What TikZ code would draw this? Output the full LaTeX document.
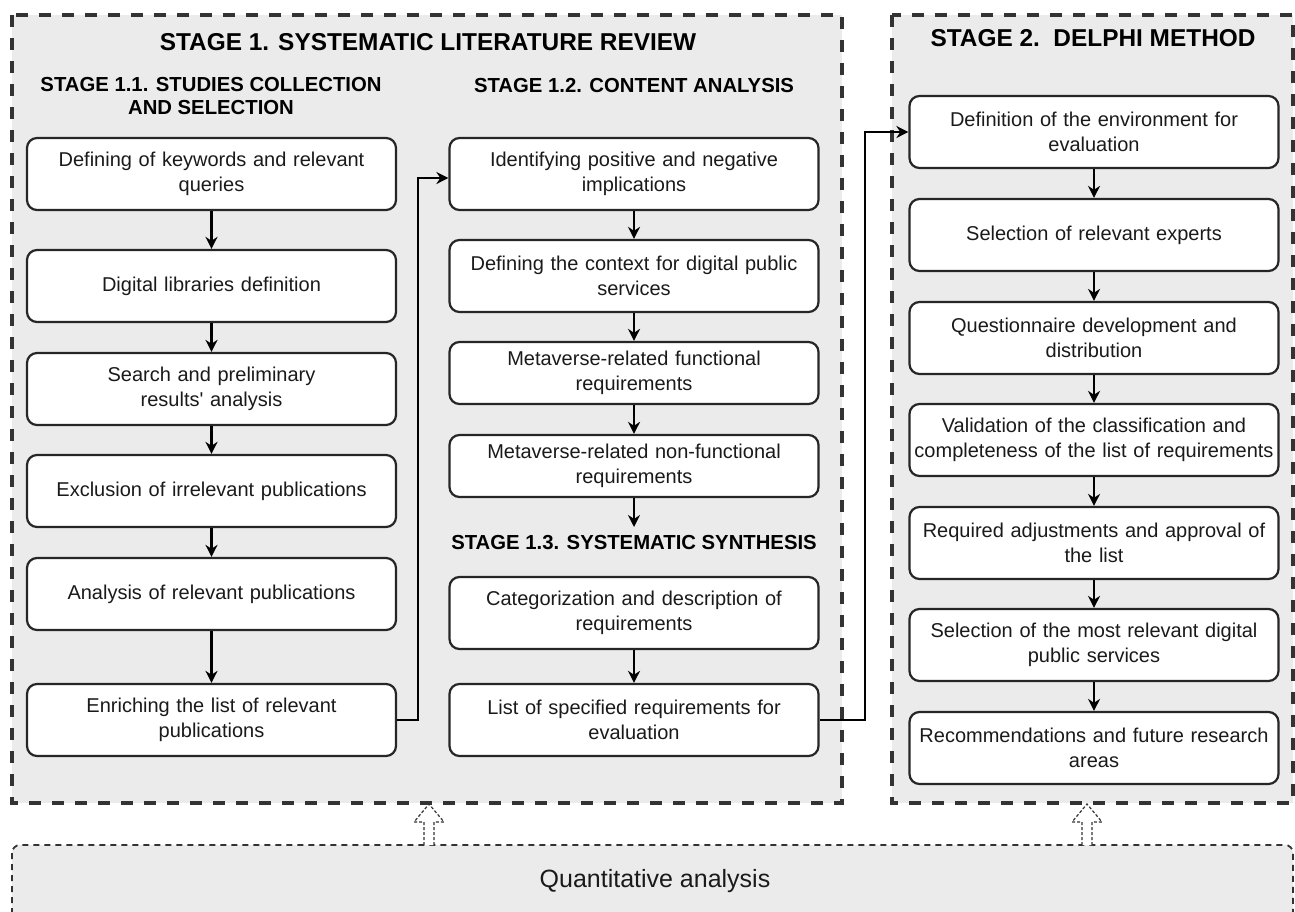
\documentclass[tikz,border=0pt]{standalone}
\usepackage{fontspec}
\setmainfont{Liberation Sans}
\usetikzlibrary{arrows.meta}
\definecolor{bggray}{HTML}{EBEBEB}
\definecolor{dashgray}{HTML}{333333}
\definecolor{txt}{HTML}{1A1A1A}
\tikzset{
  stepbox/.style={draw=black!85, line width=2.2pt, rounded corners=10pt, fill=white,
    minimum width=369pt, minimum height=72pt, align=center, text width=366pt,
    inner sep=0pt, text=txt, font=\fontsize{20}{24.5}\selectfont},
  shortbox/.style={stepbox, minimum height=62pt},
  flow/.style={line width=2.4pt, -{Stealth[length=12pt,width=12pt]}},
  stagebox/.style={draw=dashgray, fill=bggray, line width=4.5pt, dash pattern=on 12pt off 11pt},
  title/.style={font=\bfseries\fontsize{24.4}{27}\selectfont, align=center},
  subtitle/.style={font=\bfseries\fontsize{20.3}{23.5}\selectfont, align=center},
  hollow/.style={draw=dashgray, line width=1.2pt, dash pattern=on 3pt off 2pt, fill=white}
}
\begin{document}
\begin{tikzpicture}[x=1pt,y=-1pt]
\useasboundingbox (0,0) rectangle (1295,911);
% stage areas
\draw[stagebox] (12,15) rectangle (842,803);
\draw[stagebox] (892,15) rectangle (1293,803);
% bottom area
\draw[draw=dashgray, fill=bggray, line width=1.8pt, dash pattern=on 6pt off 5pt, rounded corners=8pt] (12,845) rectangle (1293,940);
\node[font=\fontsize{25}{28}\selectfont, text=txt] (quant) at (655,881) {Quantitative analysis};
% hollow dotted arrows
\draw[hollow] (424,845) -- (424,822) -- (414,822) -- (429,804) -- (444,822) -- (434,822) -- (434,845);
\draw[hollow] (1082,845) -- (1082,822) -- (1072,822) -- (1087,804) -- (1102,822) -- (1092,822) -- (1092,845);
% titles
\node[title] (t1) at (428,42) {STAGE 1. SYSTEMATIC LITERATURE REVIEW};
\node[title] (t2) at (1093,38) {STAGE 2.\ \ DELPHI METHOD};
\node[subtitle] (t11) at (211,96) {STAGE 1.1. STUDIES COLLECTION\\AND SELECTION};
\node[subtitle] (t12) at (634,86) {STAGE 1.2. CONTENT ANALYSIS};
\node[subtitle] (t13) at (634,543) {STAGE 1.3. SYSTEMATIC SYNTHESIS};
% column 1
\node[stepbox] (a1) at (211.5,174) {Defining of keywords and relevant\\queries};
\node[stepbox] (a2) at (211.5,286) {Digital libraries definition};
\node[stepbox] (a3) at (211.5,389) {Search and preliminary\\results\textquotesingle\ analysis};
\node[stepbox] (a4) at (211.5,491) {Exclusion of irrelevant publications};
\node[stepbox] (a5) at (211.5,594) {Analysis of relevant publications};
\node[stepbox] (a6) at (211.5,720) {Enriching the list of relevant\\publications};
% column 2
\node[stepbox] (b1) at (634,174) {Identifying positive and negative\\implications};
\node[stepbox] (b2) at (634,276) {Defining the context for digital public\\services};
\node[shortbox] (b3) at (634,373) {Metaverse-related functional\\requirements};
\node[shortbox] (b4) at (634,466) {Metaverse-related non-functional\\requirements};
\node[stepbox] (b5) at (634,613) {Categorization and description of\\requirements};
\node[stepbox] (b6) at (634,720) {List of specified requirements for\\evaluation};
% column 3
\node[stepbox] (c1) at (1094,132) {Definition of the environment for\\evaluation};
\node[stepbox] (c2) at (1094,235) {Selection of relevant experts};
\node[stepbox] (c3) at (1094,338) {Questionnaire development and\\distribution};
\node[stepbox] (c4) at (1094,440) {Validation of the classification and\\completeness of the list of requirements};
\node[stepbox] (c5) at (1094,543) {Required adjustments and approval of\\the list};
\node[stepbox] (c6) at (1094,645) {Selection of the most relevant digital\\public services};
\node[stepbox] (c7) at (1094,748) {Recommendations and future research\\areas};
% arrows column 1
\draw[flow] (a1) -- (a2);
\draw[flow] (a2) -- (a3);
\draw[flow] (a3) -- (a4);
\draw[flow] (a4) -- (a5);
\draw[flow] (a5) -- (a6);
% column 2
\draw[flow] (b1) -- (b2);
\draw[flow] (b2) -- (b3);
\draw[flow] (b3) -- (b4);
\draw[flow] (b4.south) -- (634,527);
\draw[flow] (b5) -- (b6);
% column 3
\draw[flow] (c1) -- (c2);
\draw[flow] (c2) -- (c3);
\draw[flow] (c3) -- (c4);
\draw[flow] (c4) -- (c5);
\draw[flow] (c5) -- (c6);
\draw[flow] (c6) -- (c7);
% connectors between columns
\draw[flow] (a6.east) -| (418,178) -- (b1.west |- 0,178);
\draw[flow] (b6.east) -| (865,132) -- (c1.west);
\end{tikzpicture}
\end{document}
